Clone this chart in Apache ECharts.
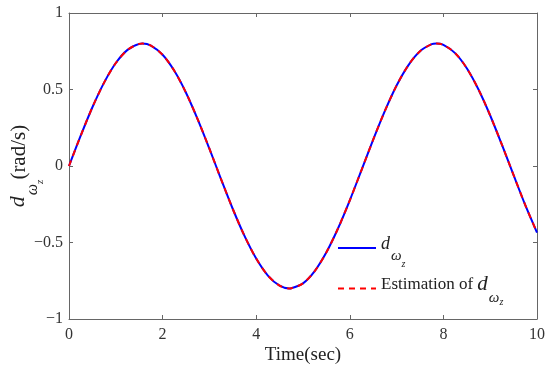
<!DOCTYPE html>
<html>
<head>
<meta charset="utf-8">
<script src="https://cdn.jsdelivr.net/npm/echarts@6/dist/echarts.min.js"></script>
<style>html,body{margin:0;padding:0;background:#fff}#c{width:550px;height:374px}</style>
</head>
<body>
<div id="c"></div>
<script>
// Time samples (sec), including the visible peaks/trough
const times = [0,0.25,0.5,0.75,1,1.25,1.5,1.57,1.75,2,2.25,2.5,2.75,3,3.25,3.5,3.75,4,4.25,4.5,4.71,4.75,5,5.25,5.5,5.75,6,6.25,6.5,6.75,7,7.25,7.5,7.75,7.85,8,8.25,8.5,8.75,9,9.25,9.5,9.75,10];
// d_wz (rad/s)
const dwz = [0,0.198,0.384,0.545,0.673,0.759,0.798,0.800,0.787,0.727,0.622,0.479,0.305,0.113,-0.087,-0.281,-0.457,-0.605,-0.716,-0.782,-0.800,-0.799,-0.767,-0.687,-0.564,-0.407,-0.224,-0.027,0.172,0.360,0.526,0.658,0.750,0.796,0.800,0.792,0.738,0.639,0.500,0.330,0.139,-0.060,-0.256,-0.435];
// Estimation of d_wz (overlaps the true signal)
const dwzEst = [0,0.198,0.384,0.545,0.673,0.759,0.798,0.800,0.787,0.727,0.622,0.479,0.305,0.113,-0.087,-0.281,-0.457,-0.605,-0.716,-0.782,-0.800,-0.799,-0.767,-0.687,-0.564,-0.407,-0.224,-0.027,0.172,0.360,0.526,0.658,0.750,0.796,0.800,0.792,0.738,0.639,0.500,0.330,0.139,-0.060,-0.256,-0.435];
const xTicks = [0,2,4,6,8,10];
const yTicks = [-1,-0.5,0,0.5,1];
const seriesNames = ['dwz','est'];

const FONT = '"Liberation Serif", "Times New Roman", serif';
const AX = '#666';
const TXT = '#222';
const chart = echarts.init(document.getElementById('c'), null, {renderer:'canvas'});

const fmtMinus = v => String(v).replace('-', '\u2212');
const it = (size, pad, extra) => Object.assign({fontFamily:FONT,fontStyle:'italic',fontSize:size,color:TXT,verticalAlign:'top',padding:pad}, extra||{});
const yNameRich = {
  d: it(22,[0,0,0,0]),
  w: it(16,[18,0,0,1]),
  z: it(11,[28,0,0,0]),
  t: {fontFamily:FONT,fontSize:21,color:TXT,verticalAlign:'top',padding:[2,0,0,0]}
};
const leg1Rich = {
  d: it(18,[8,0,0,0]),
  w: it(15,[22,0,0,1]),
  z: it(10,[32,0,0,0])
};
const leg2Rich = {
  e: {fontFamily:FONT,fontSize:17,color:TXT,verticalAlign:'top',padding:[6,0,0,0]},
  d: it(21,[4,0,0,0]),
  w: it(15,[21,0,0,1]),
  z: it(10,[27,0,0,0])
};

const baseX = {type:'value',min:xTicks[0],max:xTicks[xTicks.length-1],interval:2};
const baseY = {type:'value',min:yTicks[0],max:yTicks[yTicks.length-1],interval:0.5};
const axStyle = {
  axisLine:{show:true,onZero:false,lineStyle:{color:AX,width:1}},
  axisTick:{show:true,inside:true,length:4,lineStyle:{color:AX}},
  splitLine:{show:false}
};

chart.setOption({
  animation:false,
  backgroundColor:'#fff',
  grid:{left:69,right:13,top:13,bottom:55,containLabel:false,outerBoundsMode:'none'},
  xAxis:[
    Object.assign({},baseX,axStyle,{position:'bottom',
      axisLabel:{color:'#333',fontFamily:FONT,fontSize:16,margin:8,formatter:fmtMinus},
      name:'Time(sec)',nameLocation:'middle',nameGap:27,nameMoveOverlap:false,
      nameTextStyle:{color:TXT,fontFamily:FONT,fontSize:19}}),
    Object.assign({},baseX,axStyle,{position:'top',axisLabel:{show:false}})
  ],
  yAxis:[
    Object.assign({},baseY,axStyle,{position:'left',
      axisLabel:{color:'#333',fontFamily:FONT,fontSize:16,margin:6,formatter:fmtMinus},
      name:'{d|d}{w|ω}{z|z}{t|(rad/s)}',nameLocation:'middle',nameGap:23,nameRotate:90,nameMoveOverlap:false,
      nameTextStyle:{rich:yNameRich}}),
    Object.assign({},baseY,axStyle,{position:'right',axisLabel:{show:false}})
  ],
  legend:[
    {data:[seriesNames[0]],orient:'vertical',left:337,top:235,padding:0,itemWidth:38,itemHeight:12,
     itemStyle:{opacity:0},
     formatter:()=>'{d|d}{w|ω}{z|z}',
     textStyle:{rich:leg1Rich}},
    {data:[seriesNames[1]],orient:'vertical',left:337,top:274,padding:0,itemWidth:38,itemHeight:12,
     itemStyle:{opacity:0},
     formatter:()=>'{e|Estimation of }{d|d}{w|ω}{z|z}',
     textStyle:{rich:leg2Rich}}
  ],
  series:[
    {name:seriesNames[0],type:'line',symbol:'none',smooth:0.3,xAxisIndex:0,yAxisIndex:0,
     data:times.map((t,i)=>[t,dwz[i]]),
     lineStyle:{color:'#0000ff',width:2},itemStyle:{color:'#0000ff'},z:2},
    {name:seriesNames[1],type:'line',symbol:'none',smooth:0.3,xAxisIndex:0,yAxisIndex:0,
     data:times.map((t,i)=>[t,dwzEst[i]]),
     lineStyle:{color:'#ff0000',width:2,type:[6,5]},itemStyle:{color:'#ff0000'},z:3}
  ]
});
</script>
</body>
</html>
